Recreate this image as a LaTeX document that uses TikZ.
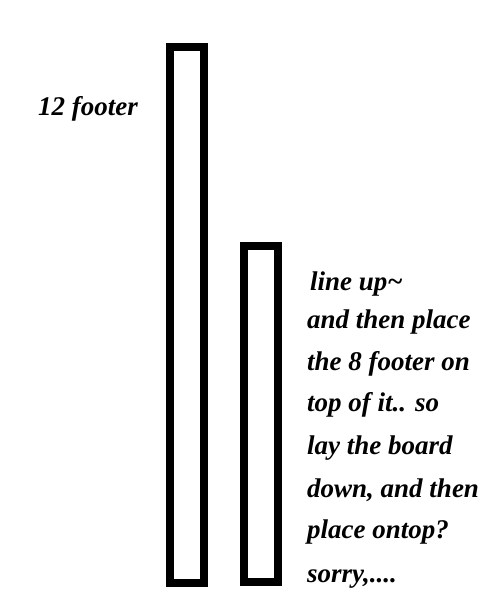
\documentclass[tikz,border=0pt]{standalone}
\usepackage{fontspec}
\setmainfont{Liberation Serif}
\begin{document}
\begin{tikzpicture}[x=1pt, y=-1pt]
\tikzset{note/.style={anchor=base west, inner sep=0pt, font=\fontsize{27}{30}\selectfont\bfseries\itshape}}
\useasboundingbox (0, 0) rectangle (500, 600);
\draw[line width=8pt] (170, 47) rectangle (204, 583);
\draw[line width=8pt] (244, 246) rectangle (278, 582);
\node[note] (tall) at (38, 115) {12 footer};
\node[note] (l1) at (310, 290) {line up\textasciitilde};
\node[note] (l2) at (307, 328) {and then place};
\node[note] (l3) at (307, 370) {the 8 footer on};
\node[note] (l4) at (307, 411) {top of it.. so};
\node[note] (l5) at (307, 454) {lay the board};
\node[note] (l6) at (307, 497) {down, and then};
\node[note] (l7) at (307, 538) {place ontop?};
\node[note] (l8) at (307, 582) {sorry,....};
\end{tikzpicture}
\end{document}
